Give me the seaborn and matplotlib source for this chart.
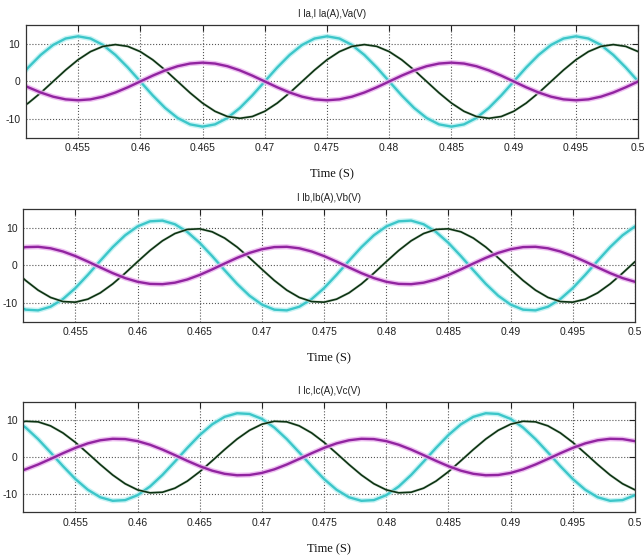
import matplotlib
matplotlib.use("Agg")
import matplotlib.pyplot as plt
import seaborn as sns

# Time axis (s), one sample per ms
time_s = [0.450, 0.451, 0.452, 0.453, 0.454, 0.455, 0.456, 0.457, 0.458, 0.459,
          0.460, 0.461, 0.462, 0.463, 0.464, 0.465, 0.466, 0.467, 0.468, 0.469,
          0.470, 0.471, 0.472, 0.473, 0.474, 0.475, 0.476, 0.477, 0.478, 0.479,
          0.480, 0.481, 0.482, 0.483, 0.484, 0.485, 0.486, 0.487, 0.488, 0.489,
          0.490, 0.491, 0.492, 0.493, 0.494, 0.495, 0.496, 0.497, 0.498, 0.499,
          0.500]

# Phase a: load current (cyan), source current (green), voltage (magenta)
ila = [0, 3.71, 7.05, 9.71, 11.41, 12, 11.41, 9.71, 7.05, 3.71,
       0, -3.71, -7.05, -9.71, -11.41, -12, -11.41, -9.71, -7.05, -3.71,
       0, 3.71, 7.05, 9.71, 11.41, 12, 11.41, 9.71, 7.05, 3.71,
       0, -3.71, -7.05, -9.71, -11.41, -12, -11.41, -9.71, -7.05, -3.71,
       0, 3.71, 7.05, 9.71, 11.41, 12, 11.41, 9.71, 7.05, 3.71,
       0]
ia = [-7.93, -5.76, -3.03, 0, 3.03, 5.76, 7.93, 9.32, 9.8, 9.32,
      7.93, 5.76, 3.03, 0, -3.03, -5.76, -7.93, -9.32, -9.8, -9.32,
      -7.93, -5.76, -3.03, 0, 3.03, 5.76, 7.93, 9.32, 9.8, 9.32,
      7.93, 5.76, 3.03, 0, -3.03, -5.76, -7.93, -9.32, -9.8, -9.32,
      -7.93, -5.76, -3.03, 0, 3.03, 5.76, 7.93, 9.32, 9.8, 9.32,
      7.93]
va = [0, -1.55, -2.94, -4.05, -4.76, -5, -4.76, -4.05, -2.94, -1.55,
      0, 1.55, 2.94, 4.05, 4.76, 5, 4.76, 4.05, 2.94, 1.55,
      0, -1.55, -2.94, -4.05, -4.76, -5, -4.76, -4.05, -2.94, -1.55,
      0, 1.55, 2.94, 4.05, 4.76, 5, 4.76, 4.05, 2.94, 1.55,
      0, -1.55, -2.94, -4.05, -4.76, -5, -4.76, -4.05, -2.94, -1.55,
      0]

# Phase b
ilb = [-10.39, -11.74, -11.93, -10.96, -8.92, -6.0, -2.49, 1.25, 4.88, 8.03,
       10.39, 11.74, 11.93, 10.96, 8.92, 6.0, 2.49, -1.25, -4.88, -8.03,
       -10.39, -11.74, -11.93, -10.96, -8.92, -6.0, -2.49, 1.25, 4.88, 8.03,
       10.39, 11.74, 11.93, 10.96, 8.92, 6.0, 2.49, -1.25, -4.88, -8.03,
       -10.39, -11.74, -11.93, -10.96, -8.92, -6.0, -2.49, 1.25, 4.88, 8.03,
       10.39]
ib = [-1.02, -3.99, -6.56, -8.49, -9.59, -9.75, -8.95, -7.28, -4.9, -2.04,
      1.02, 3.99, 6.56, 8.49, 9.59, 9.75, 8.95, 7.28, 4.9, 2.04,
      -1.02, -3.99, -6.56, -8.49, -9.59, -9.75, -8.95, -7.28, -4.9, -2.04,
      1.02, 3.99, 6.56, 8.49, 9.59, 9.75, 8.95, 7.28, 4.9, 2.04,
      -1.02, -3.99, -6.56, -8.49, -9.59, -9.75, -8.95, -7.28, -4.9, -2.04,
      1.02]
vb = [4.33, 4.89, 4.97, 4.57, 3.72, 2.5, 1.04, -0.52, -2.03, -3.35,
      -4.33, -4.89, -4.97, -4.57, -3.72, -2.5, -1.04, 0.52, 2.03, 3.35,
      4.33, 4.89, 4.97, 4.57, 3.72, 2.5, 1.04, -0.52, -2.03, -3.35,
      -4.33, -4.89, -4.97, -4.57, -3.72, -2.5, -1.04, 0.52, 2.03, 3.35,
      4.33, 4.89, 4.97, 4.57, 3.72, 2.5, 1.04, -0.52, -2.03, -3.35,
      -4.33]

# Phase c
ilc = [10.39, 8.03, 4.88, 1.25, -2.49, -6.0, -8.92, -10.96, -11.93, -11.74,
       -10.39, -8.03, -4.88, -1.25, 2.49, 6.0, 8.92, 10.96, 11.93, 11.74,
       10.39, 8.03, 4.88, 1.25, -2.49, -6.0, -8.92, -10.96, -11.93, -11.74,
       -10.39, -8.03, -4.88, -1.25, 2.49, 6.0, 8.92, 10.96, 11.93, 11.74,
       10.39, 8.03, 4.88, 1.25, -2.49, -6.0, -8.92, -10.96, -11.93, -11.74,
       -10.39]
ic = [8.95, 9.75, 9.59, 8.49, 6.56, 3.99, 1.02, -2.04, -4.9, -7.28,
      -8.95, -9.75, -9.59, -8.49, -6.56, -3.99, -1.02, 2.04, 4.9, 7.28,
      8.95, 9.75, 9.59, 8.49, 6.56, 3.99, 1.02, -2.04, -4.9, -7.28,
      -8.95, -9.75, -9.59, -8.49, -6.56, -3.99, -1.02, 2.04, 4.9, 7.28,
      8.95, 9.75, 9.59, 8.49, 6.56, 3.99, 1.02, -2.04, -4.9, -7.28,
      -8.95]
vc = [-4.33, -3.35, -2.03, -0.52, 1.04, 2.5, 3.72, 4.57, 4.97, 4.89,
      4.33, 3.35, 2.03, 0.52, -1.04, -2.5, -3.72, -4.57, -4.97, -4.89,
      -4.33, -3.35, -2.03, -0.52, 1.04, 2.5, 3.72, 4.57, 4.97, 4.89,
      4.33, 3.35, 2.03, 0.52, -1.04, -2.5, -3.72, -4.57, -4.97, -4.89,
      -4.33, -3.35, -2.03, -0.52, 1.04, 2.5, 3.72, 4.57, 4.97, 4.89,
      4.33]

titles = ["I la,I la(A),Va(V)", "I lb,Ib(A),Vb(V)", "I lc,Ic(A),Vc(V)"]
x_ticks = [0.455, 0.46, 0.465, 0.47, 0.475, 0.48, 0.485, 0.49, 0.495, 0.5]
x_ticklabels = ["0.455", "0.46", "0.465", "0.47", "0.475", "0.48", "0.485", "0.49", "0.495", "0.5"]
y_ticks = [-10, 0, 10]

sns.set_style("white")
plt.rcParams['font.family'] = ['Liberation Sans Narrow', 'Liberation Sans', 'DejaVu Sans']
plt.rcParams['axes.unicode_minus'] = False

fig = plt.figure(figsize=(6.44, 5.56), dpi=100)
boxes = [[0.040, 0.752, 0.951, 0.203],
         [0.036, 0.421, 0.950, 0.203],
         [0.036, 0.079, 0.950, 0.198]]
phases = [(ila, ia, va), (ilb, ib, vb), (ilc, ic, vc)]

# (colour, halo colour, width, halo extra width)
styles = [("#3cc6c9", "#b8f0f2", 1.7, 2.0),
          ("#0c3212", "#c8d8ca", 1.2, 0.8),
          ("#9124a0", "#eab0ee", 1.7, 2.0)]

for box, title, series in zip(boxes, titles, phases):
    ax = fig.add_axes(box)
    for vals, (col, halo, lw, extra) in zip(series, styles):
        sns.lineplot(x=time_s, y=vals, ax=ax, color=halo, linewidth=lw + extra,
                     estimator=None, sort=False, alpha=0.8)
        sns.lineplot(x=time_s, y=vals, ax=ax, color=col, linewidth=lw,
                     estimator=None, sort=False)
    ax.set_xlim(0.4508, 0.5)
    ax.set_ylim(-15, 15)
    ax.set_xticks(x_ticks)
    ax.set_xticklabels(x_ticklabels)
    ax.set_yticks(y_ticks)
    ax.grid(True, linestyle=':', color='#555555', linewidth=0.8)
    ax.tick_params(direction='in', top=True, right=True, length=4, width=0.8,
                   labelsize=7.5, colors='#222222', pad=4)
    for sp in ax.spines.values():
        sp.set_color('#333333')
        sp.set_linewidth(0.9)
    ax.set_title(title, fontsize=7, pad=6, color='#222222')
    ax.set_xlabel("Time (S)", family=['Liberation Serif', 'DejaVu Serif'],
                  fontsize=9, labelpad=11, color='#111111')
    ax.set_ylabel("")

plt.savefig("out.png", dpi=100)
plt.close()
